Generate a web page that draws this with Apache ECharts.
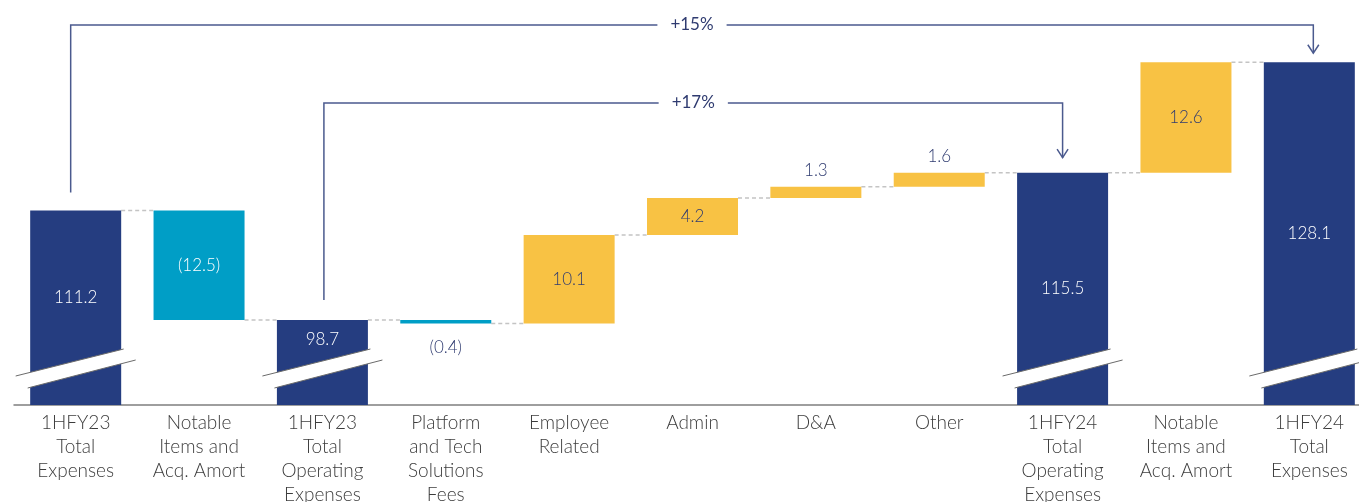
<!DOCTYPE html>
<html>
<head>
<meta charset="utf-8">
<script src="https://cdn.jsdelivr.net/npm/echarts@6/dist/echarts.min.js"></script>
<style>
  html, body { margin: 0; padding: 0; background: #ffffff; }
  #chart { width: 1359px; height: 502px; }
</style>
</head>
<body>
<div id="chart"></div>
<script>
// Expense bridge, 1HFY23 -> 1HFY24 ($m)
const categories = [
  '1HFY23\nTotal\nExpenses',
  'Notable\nItems and\nAcq. Amort',
  '1HFY23\nTotal\nOperating\nExpenses',
  'Platform\nand Tech\nSolutions\nFees',
  'Employee\nRelated',
  'Admin',
  'D&A',
  'Other',
  '1HFY24\nTotal\nOperating\nExpenses',
  'Notable\nItems and\nAcq. Amort',
  '1HFY24\nTotal\nExpenses'
];
const amounts = [111.2, -12.5, 98.7, -0.4, 10.1, 4.2, 1.3, 1.6, 115.5, 12.6, 128.1];
const isTotal = [true, false, true, false, false, false, false, false, true, false, true];

// growth brackets: from total bar -> to total bar
const bracketFrom = [0, 2];
const bracketTo = [10, 8];
const bracketText = ['+15%', '+17%'];

// ---- styling ----
const NAVY = '#253d80';
const TEAL = '#009ec6';
const YELLOW = '#f8c244';
const INK = '#2f3b70';
const ARROW = '#4b5a8e';
const FONT = 'Lato, "Open Sans", sans-serif';
const BAR_W = 91;
const Y_MIN = 89;
const Y_MAX = 135.2;
const bracketY = [25, 103];       // px height of each bracket's horizontal run
const bracketStartGap = [18, 20]; // gap above the start bar
const bracketEndGap = [9, 15];    // gap between arrow tip and end bar
const totalLabelShift = { 0: -10, 2: -23 };

// ---- waterfall geometry from the amounts ----
const baseVals = [], barVals = [], levels = [];
let running = 0;
amounts.forEach((v, i) => {
  if (isTotal[i]) {
    baseVals.push(0);
    barVals.push(v);
    running = v;
  } else {
    const start = running, end = running + v;
    baseVals.push(Math.min(start, end));
    barVals.push(Math.abs(v));
    running = end;
  }
  levels.push(running);
});

const fmt = v => v < 0 ? '(' + Math.abs(v).toFixed(1) + ')' : v.toFixed(1);

const barData = barVals.map((h, i) => {
  const v = amounts[i];
  let color = isTotal[i] ? NAVY : (v < 0 ? TEAL : YELLOW);
  const small = !isTotal[i] && Math.abs(v) < 2;
  const label = {
    show: true,
    formatter: fmt(v),
    fontFamily: FONT,
    fontSize: 17,
    fontWeight: 300,
    color: (isTotal[i] || v < 0) && !small ? '#ffffff' : INK,
    position: small ? (v < 0 ? 'bottom' : 'top') : 'inside',
    distance: small ? (v < 0 ? 16 : 8) : 5,
    offset: [0, totalLabelShift[i] || 0]
  };
  return { value: h, itemStyle: { color }, label };
});

// connector lines between consecutive bars
const connectorData = levels.slice(0, -1).map((lv, i) => [i, lv]);
// axis-break marks on the total bars
const breakData = isTotal.map((t, i) => t ? [i, Y_MIN] : null).filter(Boolean);
const bracketData = bracketFrom.map((f, k) => [f, bracketTo[k], k]);

const chart = echarts.init(document.getElementById('chart'), null, { renderer: 'canvas' });

chart.setOption({
  animation: false,
  backgroundColor: '#ffffff',
  grid: { left: 14, right: -12, top: 0, bottom: 97, containLabel: false, outerBoundsMode: 'none' },
  xAxis: {
    type: 'category',
    data: categories,
    axisTick: { show: false },
    axisLine: { lineStyle: { color: '#7f7f7f', width: 1.5 } },
    axisLabel: {
      interval: 0,
      margin: 6,
      fontFamily: FONT,
      fontSize: 19,
      fontWeight: 300,
      lineHeight: 24,
      color: '#3c3c3c'
    }
  },
  yAxis: { type: 'value', min: Y_MIN, max: Y_MAX, show: false, splitLine: { show: false } },
  series: [
    {
      type: 'bar', stack: 'w', barWidth: BAR_W, silent: true,
      itemStyle: { color: 'rgba(0,0,0,0)' },
      data: baseVals
    },
    {
      type: 'bar', stack: 'w', barWidth: BAR_W,
      data: barData
    },
    {
      type: 'custom', z: 1,
      data: connectorData,
      renderItem: (params, api) => {
        const i = api.value(0), lv = api.value(1);
        const a = api.coord([i, lv]);
        const b = api.coord([i + 1, lv]);
        return {
          type: 'line',
          shape: { x1: a[0] + BAR_W / 2, y1: a[1], x2: b[0] - BAR_W / 2, y2: b[1] },
          style: { stroke: '#c4c4c4', lineWidth: 1.5, lineDash: [4, 3] }
        };
      }
    },
    {
      type: 'custom', z: 5,
      data: breakData,
      renderItem: (params, api) => {
        const p = api.coord([api.value(0), api.value(1)]);
        const cx = p[0], y0 = p[1];
        const u1 = [cx - 60, y0 - 29], u2 = [cx + 48, y0 - 56];
        const l1 = [cx - 48, y0 - 17], l2 = [cx + 60, y0 - 45];
        return {
          type: 'group',
          children: [
            { type: 'polygon', shape: { points: [u1, u2, l2, l1] }, style: { fill: '#ffffff' } },
            { type: 'line', shape: { x1: u1[0], y1: u1[1], x2: u2[0], y2: u2[1] }, style: { stroke: '#6b6b6b', lineWidth: 1 } },
            { type: 'line', shape: { x1: l1[0], y1: l1[1], x2: l2[0], y2: l2[1] }, style: { stroke: '#6b6b6b', lineWidth: 1 } }
          ]
        };
      }
    },
    {
      type: 'custom', z: 6,
      data: bracketData,
      renderItem: (params, api) => {
        const f = api.value(0), t = api.value(1), k = api.value(2);
        const a = api.coord([f, levels[f]]);
        const b = api.coord([t, levels[t]]);
        const xa = a[0] + (k === 0 ? -5 : 1.5);
        const xb = b[0] + (k === 0 ? 4 : 0);
        const yTop = bracketY[k];
        const yStart = a[1] - bracketStartGap[k];
        const yTip = b[1] - bracketEndGap[k];
        const lineStyle = { stroke: ARROW, lineWidth: 1.5, fill: null };
        return {
          type: 'group',
          children: [
            { type: 'polyline', shape: { points: [[xa, yStart], [xa, yTop], [xb, yTop], [xb, yTip]] }, style: lineStyle },
            { type: 'polyline', shape: { points: [[xb - 5.5, yTip - 8.5], [xb, yTip], [xb + 5.5, yTip - 8.5]] }, style: lineStyle },
            {
              type: 'text',
              style: {
                x: (xa + xb) / 2, y: yTop,
                text: bracketText[k],
                align: 'center', verticalAlign: 'middle',
                fontFamily: FONT, fontSize: 17, fontWeight: 400,
                fill: INK,
                backgroundColor: '#ffffff',
                padding: [2, 13]
              }
            }
          ]
        };
      }
    }
  ]
});
</script>
</body>
</html>
